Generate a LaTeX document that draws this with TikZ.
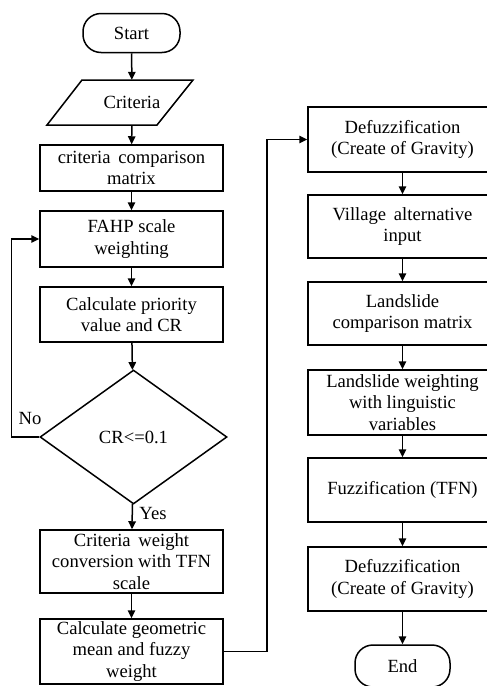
\documentclass[tikz,border=0pt]{standalone}
\usepackage{fontspec}
\setmainfont{Liberation Serif}
\usetikzlibrary{arrows.meta,shapes.geometric}
\begin{document}
\begin{tikzpicture}[x=1pt,y=-1pt,
  every node/.style={font=\fontsize{18.6}{21.5}\selectfont},
  box/.style n args={2}{draw,line width=1.5pt,inner sep=0pt,align=center,minimum width=#1,minimum height=#2},
  term/.style n args={2}{box={#1}{#2},rounded corners=18pt},
  dec/.style={draw,line width=1.5pt,diamond,inner sep=0pt,minimum width=187,minimum height=134},
  conn/.style={line width=1.5pt,-{Triangle[length=8pt,width=7.5pt]}},
  lbl/.style={inner sep=0pt}
]
\useasboundingbox (0,0) rectangle (487,686);
% left column
\node[term={97}{39}] (start) at (131.5,33) {Start};
\node[lbl,minimum height=45] (crit) at (132,102.5) {Criteria};
\draw[line width=1.5pt] (82,80) -- (193,80) -- (157,125) -- (47,125) -- cycle;
\node[box={183}{46}] (ccm) at (131.5,168) {criteria\, comparison\\matrix};
\node[box={183}{56}] (fahp) at (131.5,239) {FAHP scale\\weighting};
\node[box={183}{55}] (calc) at (131.5,314.5) {Calculate priority\\value and CR};
\node[dec] (cr) at (133.5,437) {CR<=0.1};
\node[box={183}{63}] (cwc) at (131.5,561.5) {Criteria\, weight\\conversion with TFN\\scale};
\node[box={183}{65}] (cgm) at (131.5,651.5) {Calculate geometric\\mean and fuzzy\\weight};
% right column
\node[box={189}{65}] (d1) at (402.5,139.5) {Defuzzification\\(Create of Gravity)};
\node[box={189}{63}] (vil) at (402.5,226.5) {Village\, alternative\\input};
\node[box={189}{63}] (lcm) at (402.5,313.5) {Landslide\\comparison matrix};
\node[box={189}{65}] (lwl) at (402.5,402.5) {Landslide weighting\\with linguistic\\variables};
\node[box={189}{64}] (fuz) at (402.5,490) {Fuzzification (TFN)};
\node[box={189}{64}] (d2) at (402.5,579) {Defuzzification\\(Create of Gravity)};
\node[term={95}{42}] (end) at (402.5,666) {End};
% labels
\node[lbl] (no) at (30,418) {No};
\node[lbl] (yes) at (153,513) {Yes};
% connectors
\draw[conn] (start) -- (crit);
\draw[conn] (crit) -- (ccm);
\draw[conn] (ccm) -- (fahp);
\draw[conn] (fahp) -- (calc);
\draw[conn] (calc) -- (cr);
\draw[conn] (cr) -- (cwc);
\draw[conn] (cwc) -- (cgm);
\draw[conn] (cr.west) -- ++(-28,0) |- (fahp.west);
\draw[conn] (cgm.east) -- ++(43,0) |- (d1.west);
\draw[conn] (d1) -- (vil);
\draw[conn] (vil) -- (lcm);
\draw[conn] (lcm) -- (lwl);
\draw[conn] (lwl) -- (fuz);
\draw[conn] (fuz) -- (d2);
\draw[conn] (d2) -- (end);
\end{tikzpicture}
\end{document}
